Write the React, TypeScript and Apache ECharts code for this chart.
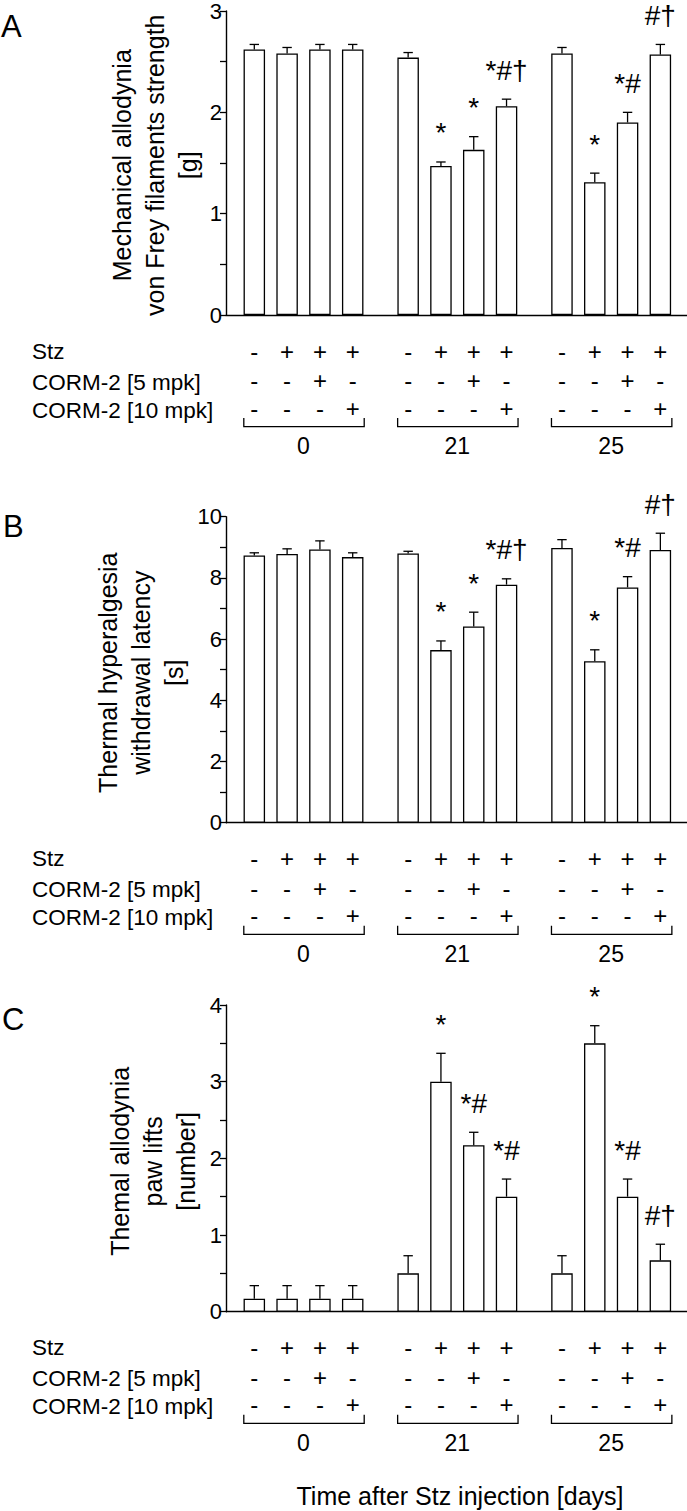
import React, { useEffect, useRef } from 'react';
import * as echarts from 'echarts';

// ---- data ----
const TIME_GROUPS = ['0', '21', '25'];
const ROW_LABELS = ['Stz', 'CORM-2 [5 mpk]', 'CORM-2 [10 mpk]'];
const STZ_SIGNS = ['-', '+', '+', '+'];
const CORM5_SIGNS = ['-', '-', '+', '-'];
const CORM10_SIGNS = ['-', '-', '-', '+'];

const MECH_MEAN = [2.62, 2.58, 2.62, 2.62, 2.54, 1.47, 1.63, 2.06, 2.58, 1.31, 1.9, 2.57];
const MECH_SEM = [0.05, 0.06, 0.05, 0.05, 0.05, 0.04, 0.13, 0.07, 0.06, 0.09, 0.1, 0.1];
const MECH_MARKS = ['', '', '', '', '', '*', '*', '*#†', '', '*', '*#', '#†'];

const THERM_MEAN = [8.73, 8.78, 8.93, 8.68, 8.8, 5.64, 6.41, 7.78, 8.98, 5.28, 7.69, 8.91];
const THERM_SEM = [0.09, 0.17, 0.28, 0.14, 0.07, 0.3, 0.47, 0.19, 0.27, 0.37, 0.35, 0.55];
const THERM_MARKS = ['', '', '', '', '', '*', '*', '*#†', '', '*', '*#', '#†'];

const LIFTS_MEAN = [0.17, 0.17, 0.17, 0.17, 0.5, 3.0, 2.17, 1.5, 0.5, 3.5, 1.5, 0.67];
const LIFTS_SEM = [0.17, 0.17, 0.17, 0.17, 0.23, 0.37, 0.17, 0.23, 0.23, 0.23, 0.23, 0.21];
const LIFTS_MARKS = ['', '', '', '', '', '*', '*#', '*#', '', '*', '*#', '#†'];

const Y_TITLE_A = ['Mechanical allodynia', 'von Frey filaments strength', '[g]'];
const Y_TITLE_B = ['Thermal hyperalgesia', 'withdrawal latency', '[s]'];
const Y_TITLE_C = ['Themal allodynia', 'paw lifts', '[number]'];
const X_TITLE = 'Time after Stz injection [days]';

// ---- layout ----
const FONT = '"Liberation Sans", Arial, sans-serif';
const GROUP_STEP = 4.69;
const BARS_PER_GROUP = 4;
const X_MIN = -0.863;
const X_MAX = 13.192;
const GRID_LEFT = 226;
const GRID_WIDTH = 461;

const PANELS = [
  { letter: 'A', letterY: 26.6, letterX: 1, title: Y_TITLE_A, titleX: 154.6, mean: MECH_MEAN, sem: MECH_SEM, marks: MECH_MARKS, max: 3, interval: 0.5, labelStep: 1, top: 9.5, bottom: 315 },
  { letter: 'B', letterY: 526.6, letterX: 3, title: Y_TITLE_B, titleX: 141.2, mean: THERM_MEAN, sem: THERM_SEM, marks: THERM_MARKS, max: 10, interval: 1, labelStep: 2, top: 516.7, bottom: 822.7 },
  { letter: 'C', letterY: 1019.6, letterX: 2, title: Y_TITLE_C, titleX: 152.8, mean: LIFTS_MEAN, sem: LIFTS_SEM, marks: LIFTS_MARKS, max: 4, interval: 0.5, labelStep: 1, top: 1005, bottom: 1311.7 },
];

const xOf = (i: number) => Math.floor(i / BARS_PER_GROUP) * GROUP_STEP + (i % BARS_PER_GROUP);

function buildOption() {
  const grid: any[] = [];
  const xAxis: any[] = [];
  const yAxis: any[] = [];
  const series: any[] = [];
  PANELS.forEach((p, pi) => {
    grid.push({ left: GRID_LEFT, width: GRID_WIDTH, top: p.top, height: p.bottom - p.top, containLabel: false });
    xAxis.push({
      type: 'value', gridIndex: pi, min: X_MIN, max: X_MAX,
      axisLine: { show: true, onZero: false, lineStyle: { color: '#000', width: 1.4 } },
      axisTick: { show: false }, axisLabel: { show: false }, splitLine: { show: false },
    });
    yAxis.push({
      type: 'value', gridIndex: pi, min: 0, max: p.max, interval: p.interval,
      axisLine: { show: true, onZero: false, lineStyle: { color: '#000', width: 1.4 } },
      axisTick: { show: true, length: 6, lineStyle: { color: '#000', width: 1.3 } },
      splitLine: { show: false },
      axisLabel: {
        margin: 4, fontSize: 22, color: '#000', fontFamily: FONT,
        formatter: (v: number) => {
          const r = v / p.labelStep;
          return Math.abs(r - Math.round(r)) < 1e-6 ? String(Math.round(v)) : '';
        },
      },
    });
    series.push({
      type: 'bar', xAxisIndex: pi, yAxisIndex: pi, barWidth: 21.5, silent: true,
      itemStyle: { color: '#fff', borderColor: '#000', borderWidth: 1.3 },
      data: p.mean.map((m, i) => [xOf(i), m]),
      z: 2,
    });
    series.push({
      type: 'custom', xAxisIndex: pi, yAxisIndex: pi, clip: false, silent: true, z: 3,
      data: p.mean.map((m, i) => [xOf(i), m, p.sem[i]]),
      renderItem: (params: any, api: any) => {
        const x = api.value(0);
        const m = api.value(1);
        const s = api.value(2);
        const base = api.coord([x, m]);
        const top = api.coord([x, m + s]);
        const children: any[] = [
          { type: 'line', shape: { x1: base[0], y1: base[1], x2: top[0], y2: top[1] }, style: { stroke: '#000', lineWidth: 1.3 } },
          { type: 'line', shape: { x1: top[0] - 4.7, y1: top[1], x2: top[0] + 4.7, y2: top[1] }, style: { stroke: '#000', lineWidth: 1.3 } },
        ];
        const label = p.marks[params.dataIndex];
        if (label) {
          children.push({
            type: 'text',
            style: { text: label, x: top[0], y: top[1] - 29, align: 'center', verticalAlign: 'middle', fontSize: 28, fontFamily: FONT, fill: '#000' },
          });
        }
        return { type: 'group', children };
      },
    });
  });
  return { animation: false, backgroundColor: '#fff', grid, xAxis, yAxis, series };
}

function buildGraphics(chart: any) {
  const els: any[] = [];
  const labelOffsets = [36, 67, 95];
  const signOffsets = [36, 65.5, 93];
  const signRows = [STZ_SIGNS, CORM5_SIGNS, CORM10_SIGNS];
  PANELS.forEach((p, pi) => {
    const y0 = p.bottom;
    // panel letter
    els.push({ type: 'text', x: p.letterX, y: p.letterY, style: { text: p.letter, fontSize: 31, fontFamily: FONT, fill: '#000', align: 'left', verticalAlign: 'middle' } });
    // y title
    els.push({
      type: 'text', x: p.titleX, y: (p.top + p.bottom) / 2 + 3, rotation: Math.PI / 2,
      style: { text: p.title.join('\n'), fontSize: 25, lineHeight: 33, fontFamily: FONT, fill: '#000', align: 'center', verticalAlign: 'middle' },
    });
    // row labels
    ROW_LABELS.forEach((lab, r) => {
      els.push({ type: 'text', x: 32, y: y0 + labelOffsets[r], style: { text: lab, fontSize: 22.5, fontFamily: FONT, fill: '#000', align: 'left', verticalAlign: 'middle' } });
    });
    TIME_GROUPS.forEach((g, gi) => {
      const firstIdx = gi * BARS_PER_GROUP;
      const lastIdx = firstIdx + BARS_PER_GROUP - 1;
      const px = (i: number) => chart.convertToPixel({ gridIndex: pi }, [xOf(i), 0])[0];
      for (let k = 0; k < BARS_PER_GROUP; k++) {
        const cx = px(firstIdx + k);
        signRows.forEach((row, r) => {
          els.push({ type: 'text', x: cx, y: y0 + signOffsets[r], style: { text: row[k], fontSize: 24, fontFamily: FONT, fill: '#000', align: 'center', verticalAlign: 'middle' } });
        });
      }
      const x1 = px(firstIdx) - 10.5;
      const x2 = px(lastIdx) + 11.5;
      els.push({ type: 'polyline', shape: { points: [[x1, y0 + 103], [x1, y0 + 111.7], [x2, y0 + 111.7], [x2, y0 + 103]] }, style: { stroke: '#000', lineWidth: 1.3, fill: 'none' } });
      els.push({ type: 'text', x: (px(firstIdx) + px(lastIdx)) / 2, y: y0 + 131, style: { text: g, fontSize: 23, fontFamily: FONT, fill: '#000', align: 'center', verticalAlign: 'middle' } });
    });
  });
  els.push({ type: 'text', x: 460, y: 1496, style: { text: X_TITLE, fontSize: 25, fontFamily: FONT, fill: '#000', align: 'center', verticalAlign: 'middle' } });
  return els;
}

export default function App() {
  const ref = useRef<HTMLDivElement>(null);
  useEffect(() => {
    document.body.style.margin = '0';
    const chart = echarts.init(ref.current as HTMLDivElement, null, { renderer: 'svg' });
    chart.setOption(buildOption());
    chart.setOption({ graphic: buildGraphics(chart) });
    return () => chart.dispose();
  }, []);
  return <div ref={ref} style={{ position: 'absolute', left: 0, top: 0, width: 687, height: 1511, background: '#fff' }} />;
}
